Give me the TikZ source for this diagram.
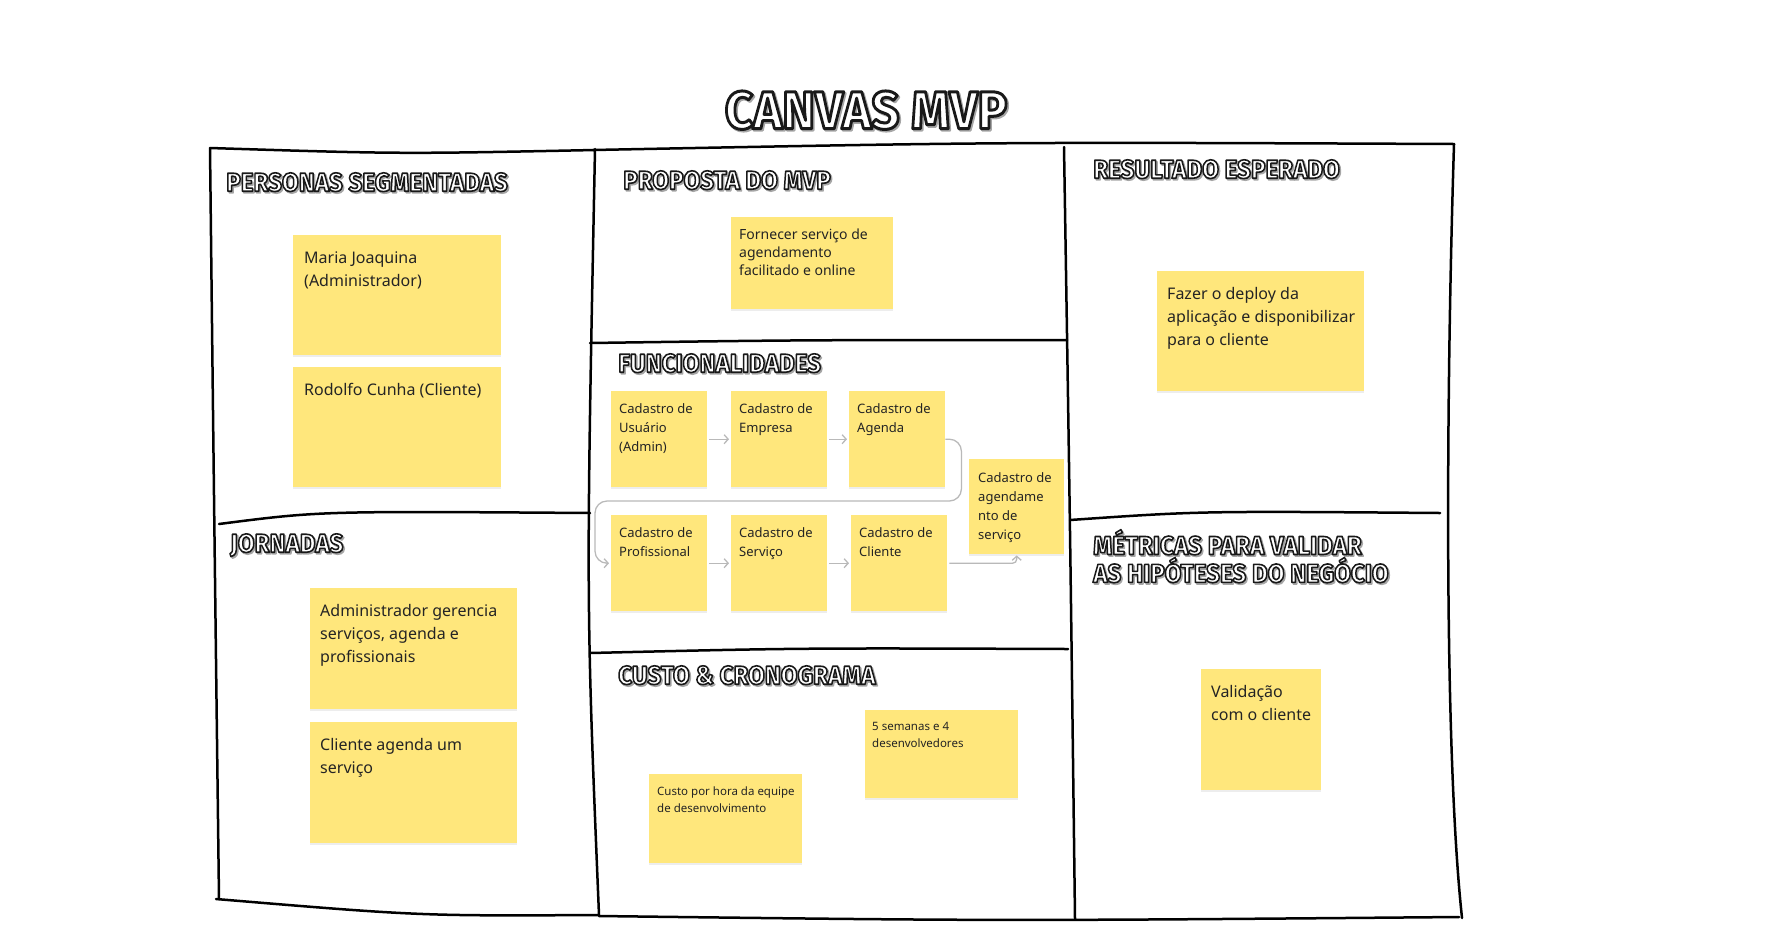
\documentclass[tikz,border=0pt]{standalone}
\usepackage{fontspec}
\setmainfont{Noto Sans}
\newfontfamily\titlefont{Fira Sans}
\usetikzlibrary{positioning,shadows,arrows.meta}
\definecolor{sticky}{RGB}{255,231,124}
\definecolor{ink}{RGB}{36,36,36}
\definecolor{flowgray}{RGB}{185,185,185}
\newcommand{\cvtitle}[2][1.6]{\scalebox{0.93}[1]{%
  \rlap{\hspace{1.6pt}\raisebox{-1.6pt}{\textcolor{black!35}{\special{pdf:literal direct 0.65 G 2 Tr #1 w 1 j}#2\special{pdf:literal direct 0 Tr}}}}%
  \textcolor{white}{\special{pdf:literal direct 0.1 G 2 Tr #1 w 1 j}#2\special{pdf:literal direct 0 Tr}}}}
\begin{document}
\begin{tikzpicture}
  [x=1pt,y=-1pt,
   card/.style={fill=sticky,anchor=north west,inner sep=0pt,
     drop shadow={shadow xshift=0pt,shadow yshift=-2pt,opacity=0.14}},
   note/.style={inner sep=0pt,align=left,text=ink},
   big/.style={note,font=\fontsize{16}{23}\selectfont},
   mid/.style={note,font=\fontsize{14}{18}\selectfont},
   small/.style={note,font=\fontsize{13}{19}\selectfont},
   tiny/.style={note,font=\fontsize{11.5}{17.5}\selectfont},
   frame/.style={line width=2.5pt,line cap=round},
   flow/.style={draw=flowgray,line width=1.3pt,
     -{Straight Barb[length=4pt,width=9pt]}},
   ctitle/.style={inner sep=0pt,anchor=west,
     font=\titlefont\bfseries\fontsize{26}{26}\selectfont}]
  \useasboundingbox (0,0) rectangle (1776,935);

  % canvas frame
  \draw[frame] (210,148) .. controls (400,154) .. (595,150);
  \draw[frame] (593,150) .. controls (1000,142) .. (1454,144);
  \draw[frame] (210,148) .. controls (214,500) .. (219,899);
  \draw[frame] (595,149) .. controls (586,600) .. (599,915);
  \draw[frame] (1064,147) .. controls (1070,520) .. (1075,919);
  \draw[frame] (1454,144) .. controls (1446,400) and (1444,750) .. (1462,918);
  \draw[frame] (216,899) .. controls (420,916) .. (599,915);
  \draw[frame] (599,916) .. controls (1000,921) .. (1459,917);
  \draw[frame] (219,524) .. controls (320,511) .. (590,513);
  \draw[frame] (590,343) .. controls (800,340) .. (1067,340);
  \draw[frame] (590,653) .. controls (800,648) .. (1068,649);
  \draw[frame] (1070,520) .. controls (1200,511) .. (1440,513);

  % titles
  \node[ctitle,anchor=center,font=\titlefont\bfseries\fontsize{53}{53}\selectfont]
    (tmvp) at (866,111) {\cvtitle[3]{CANVAS MVP}};
  \node[ctitle] (tper) at (226,183) {\cvtitle{PERSONAS SEGMENTADAS}};
  \node[ctitle] (tprop) at (623,181) {\cvtitle{PROPOSTA DO MVP}};
  \node[ctitle] (tres) at (1093,170) {\cvtitle{RESULTADO ESPERADO}};
  \node[ctitle] (tfun) at (618,364) {\cvtitle{FUNCIONALIDADES}};
  \node[ctitle] (tjor) at (230,546) {\cvtitle{JORNADAS}};
  \node[ctitle] (tcus) at (618,676) {\cvtitle{CUSTO \& CRONOGRAMA}};
  \node[ctitle,align=left,font=\titlefont\bfseries\fontsize{26}{23}\selectfont]
    (tmet) at (1093,557)
    {\cvtitle{MÉTRICAS PARA VALIDAR}\\\cvtitle{AS HIPÓTESES DO NEGÓCIO}};

  % personas
  \node[card,minimum width=208pt,minimum height=120pt] (per1) at (293,235) {};
  \node[card,minimum width=208pt,minimum height=120pt] (per2) at (293,367) {};
  \node[big,below right=12pt and 11pt of per1.north west] (per1t)
    {\strut Maria Joaquina\\(Administrador)};
  \node[big,below right=12pt and 11pt of per2.north west] (per2t)
    {\strut Rodolfo Cunha (Cliente)};

  % jornadas
  \node[card,minimum width=207pt,minimum height=121pt] (jor1) at (310,588) {};
  \node[card,minimum width=207pt,minimum height=121pt] (jor2) at (310,722) {};
  \node[big,below right=12pt and 10pt of jor1.north west] (jor1t)
    {\strut Administrador gerencia\\serviços, agenda e\\profissionais};
  \node[big,below right=12pt and 10pt of jor2.north west] (jor2t)
    {\strut Cliente agenda um\\serviço};

  % proposta
  \node[card,minimum width=162pt,minimum height=92pt] (prop) at (731,217) {};
  \node[mid,below right=10pt and 8pt of prop.north west] (propt)
    {\strut Fornecer serviço de\\agendamento\\facilitado e online};

  % resultado
  \node[card,minimum width=207pt,minimum height=120pt] (res) at (1157,271) {};
  \node[big,below right=12pt and 10pt of res.north west] (rest)
    {\strut Fazer o deploy da\\aplicação e disponibilizar\\para o cliente};

  % metricas
  \node[card,minimum width=120pt,minimum height=121pt] (met) at (1201,669) {};
  \node[big,below right=12pt and 10pt of met.north west] (mett)
    {\strut Validação\\com o cliente};

  % funcionalidades
  \node[card,minimum width=96pt,minimum height=96pt] (a1) at (611,391) {};
  \node[card,minimum width=96pt,minimum height=96pt] (a2) at (731,391) {};
  \node[card,minimum width=96pt,minimum height=96pt] (a3) at (849,391) {};
  \node[card,minimum width=95pt,minimum height=95pt] (a4) at (969,459) {};
  \node[card,minimum width=96pt,minimum height=96pt] (b1) at (611,515) {};
  \node[card,minimum width=96pt,minimum height=96pt] (b2) at (731,515) {};
  \node[card,minimum width=96pt,minimum height=96pt] (b3) at (851,515) {};
  \node[small,below right=9pt and 8pt of a1.north west] (a1t)
    {\strut Cadastro de\\Usuário\\(Admin)};
  \node[small,below right=9pt and 8pt of a2.north west] (a2t)
    {\strut Cadastro de\\Empresa};
  \node[small,below right=9pt and 8pt of a3.north west] (a3t)
    {\strut Cadastro de\\Agenda};
  \node[small,below right=10pt and 9pt of a4.north west] (a4t)
    {\strut Cadastro de\\agendame\\nto de\\serviço};
  \node[small,below right=9pt and 8pt of b1.north west] (b1t)
    {\strut Cadastro de\\Profissional};
  \node[small,below right=9pt and 8pt of b2.north west] (b2t)
    {\strut Cadastro de\\Serviço};
  \node[small,below right=9pt and 8pt of b3.north west] (b3t)
    {\strut Cadastro de\\Cliente};

  \foreach \from/\to in {a1/a2,a2/a3,b1/b2,b2/b3}
    \draw[flow,shorten <=2pt,shorten >=2pt] (\from.east) -- (\to.west);
  \coordinate (turn) at (595,501);
  \draw[flow,rounded corners=12pt,shorten >=2pt] (a3.east) -- ++(16,0) |- (turn) |- (b1.west);
  \draw[flow,rounded corners=4pt,shorten <=2pt,shorten >=1pt] (b3.east) -| (a4.south);

  % custo
  \node[card,minimum width=153pt,minimum height=89pt] (cus1) at (649,774) {};
  \node[card,minimum width=153pt,minimum height=88pt] (cus2) at (865,710) {};
  \node[tiny,below right=9pt and 8pt of cus1.north west] (cus1t)
    {\strut Custo por hora da equipe\\de desenvolvimento};
  \node[tiny,below right=8pt and 7pt of cus2.north west] (cus2t)
    {\strut 5 semanas e 4\\desenvolvedores};

\end{tikzpicture}
\end{document}
